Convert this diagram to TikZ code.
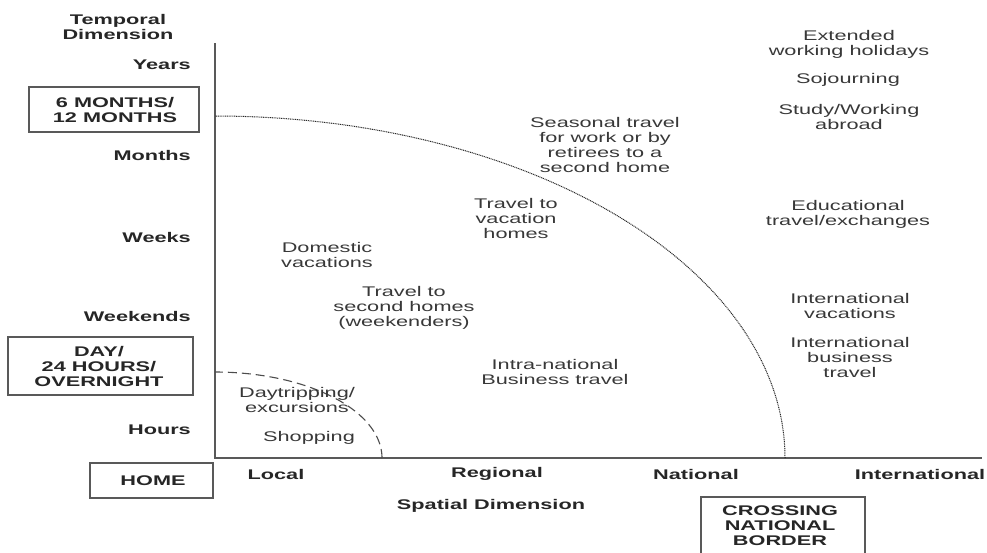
\documentclass[tikz,border=0pt]{standalone}
\usepackage{fontspec}
\setmainfont{Liberation Sans}[FakeStretch=1.55]
\begin{document}
\begin{tikzpicture}[x=1pt,y=-1pt,
  lab/.style={font=\fontsize{14}{15}\selectfont, text=black!78, align=center, inner sep=0pt},
  axlab/.style={font=\fontsize{14}{15}\selectfont\bfseries, text=black!85, align=center, inner sep=0pt},
  ylab/.style={axlab, anchor=east},
  boxlab/.style={draw=black!65, line width=1.2pt},
  axis/.style={draw=black!65, line width=1.3pt}
]
\clip (0,0) rectangle (987,552);
\useasboundingbox (0,0) rectangle (987,552);

% axes
\coordinate (top) at (215,43);
\coordinate (orig) at (215,458);
\coordinate (right) at (982,458);
\draw[axis] (top) -- (orig) -- (right);

% arcs
\draw[black!85, line width=1pt, dash pattern=on 1pt off 0.8pt]
  plot[domain=0:90, samples=90, smooth] ({215+570*cos(\x)}, {458-342*sin(\x)});
\draw[black!70, line width=1.1pt, dash pattern=on 9pt off 5pt]
  plot[domain=0:90, samples=60, smooth] ({215+167*cos(\x)}, {458-86*sin(\x)});

% boxes
\draw[boxlab] (29,87) rectangle (199,132);
\draw[boxlab] (8,337) rectangle (193,395);
\draw[boxlab] (90,463) rectangle (213,498);
\draw[boxlab] (701,497) rectangle (865,570);

\node[axlab] (months6) at (115,109.5) {6 MONTHS/\\12 MONTHS};
\node[axlab] (day) at (99,366) {DAY/\\24 HOURS/\\OVERNIGHT};
\node[axlab] (home) at (153,481) {HOME};
\node[axlab] (border) at (780,526) {CROSSING\\NATIONAL\\BORDER};

% temporal labels
\node[axlab] (temporal) at (118,27) {Temporal\\Dimension};
\node[ylab] (years) at (191,65) {Years};
\node[ylab] (monthsl) at (191,155) {Months};
\node[ylab] (weeks) at (191,237) {Weeks};
\node[ylab] (weekends) at (191,316) {Weekends};
\node[ylab] (hours) at (191,430) {Hours};

% spatial labels
\node[axlab] (local) at (276,474) {Local};
\node[axlab] (regional) at (497,474) {Regional};
\node[axlab] (national) at (696,474) {National};
\node[axlab] (international) at (920,474) {International};
\node[axlab] (spatial) at (491,506) {Spatial Dimension};

% inner texts
\node[lab] (ext) at (849,44.5) {Extended\\working holidays};
\node[lab] (soj) at (848,80) {Sojourning};
\node[lab] (study) at (849,117) {Study/Working\\abroad};
\node[lab] (seasonal) at (605,144.5) {Seasonal travel\\for work or by\\retirees to a\\second home};
\node[lab] (vacation) at (516,218.5) {Travel to\\vacation\\homes};
\node[lab] (edu) at (848,214.5) {Educational\\travel/exchanges};
\node[lab] (domestic) at (327,255) {Domestic\\vacations};
\node[lab] (second) at (404,307.5) {Travel to\\second homes\\(weekenders)};
\node[lab] (intvac) at (850,306) {International\\vacations};
\node[lab] (intbus) at (850,357.5) {International\\business\\travel};
\node[lab] (intra) at (555,372) {Intra-national\\Business travel};
\node[lab] (daytrip) at (297,399.5) {Daytripping/\\excursions};
\node[lab] (shopping) at (309,438) {Shopping};
\end{tikzpicture}
\end{document}
